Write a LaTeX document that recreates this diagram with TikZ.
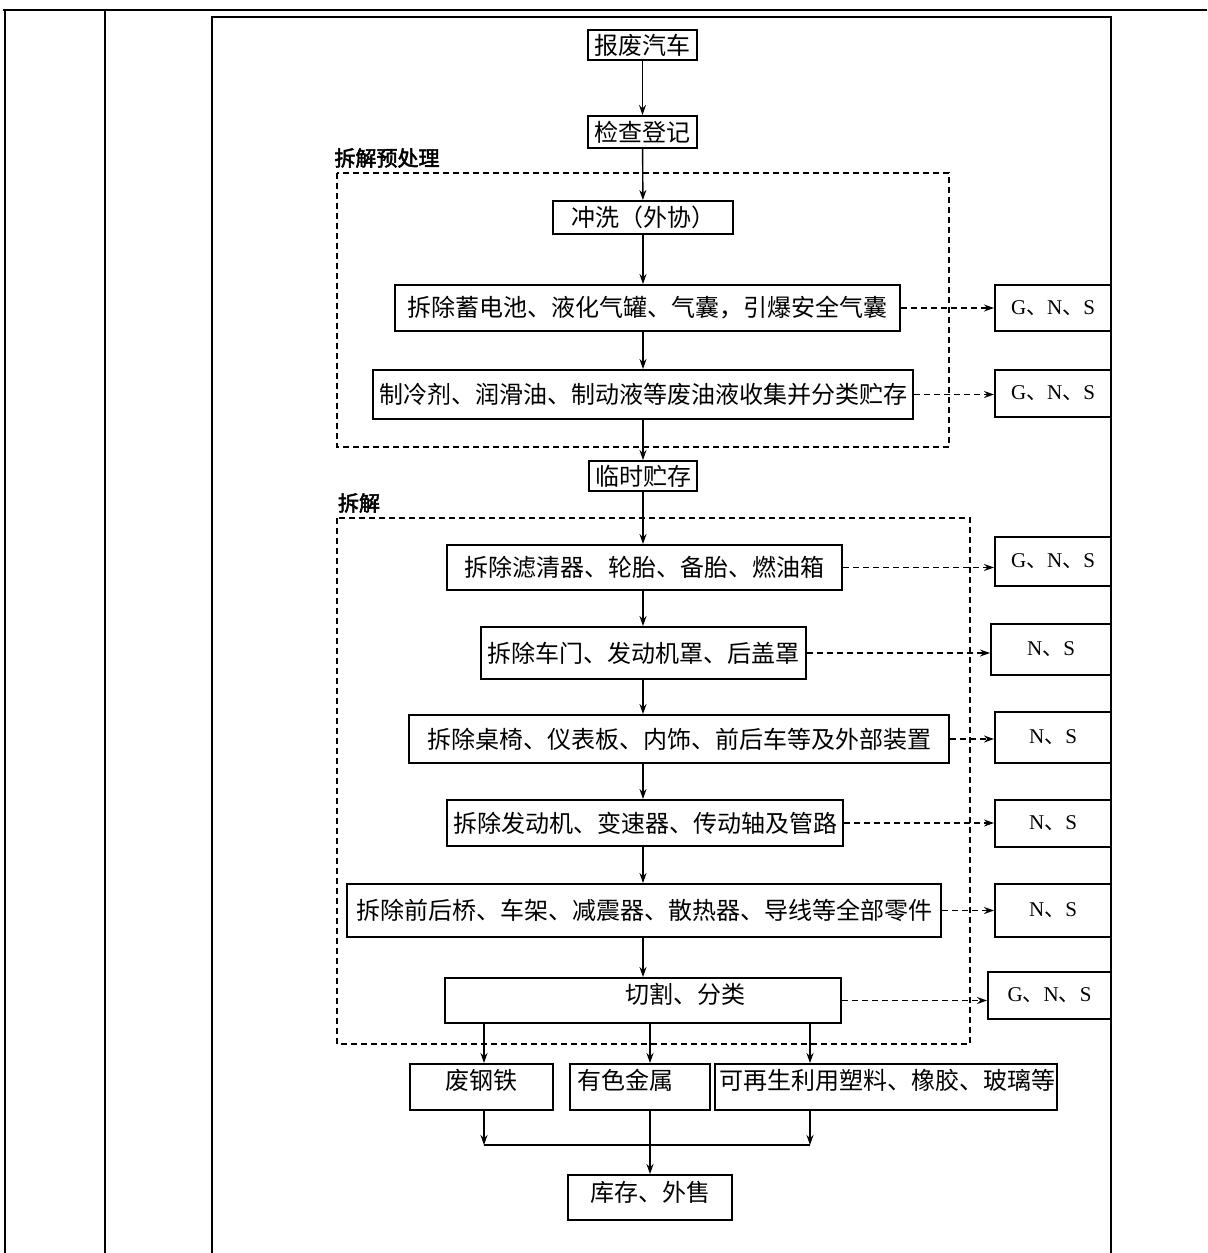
\documentclass[tikz,border=0pt]{standalone}
\usepackage{fontspec}
\setmainfont{Liberation Serif}
\newfontfamily\cjk[AutoFakeBold=2.5]{Noto Sans CJK SC}
\usetikzlibrary{arrows.meta}
\begin{document}
\begin{tikzpicture}[x=0.5pt,y=-0.5pt,
  frame/.style={line width=1pt},
  box/.style={draw, line width=1pt, inner sep=0pt, font=\cjk\fontsize{12}{14}\selectfont},
  gbox/.style={draw, line width=1pt, inner sep=0pt, font=\fontsize{10.5}{12}\selectfont},
  txt/.style={inner sep=0pt, font=\cjk\fontsize{12}{14}\selectfont},
  lbl/.style={inner sep=0pt, font=\cjk\bfseries\fontsize{10.5}{12}\selectfont},
  grp/.style={draw, dashed, dash pattern=on 3pt off 2pt, line width=0.8pt},
  arr/.style={-{Stealth[length=5pt,width=3.5pt]}, line width=0.7pt},
  darr/.style={-{Stealth[length=5pt,width=3.5pt]}, line width=0.7pt, dash pattern=on 3pt off 2pt}]
\useasboundingbox (0,0) rectangle (1207,1253);
\fill[white] (0,0) rectangle (1207,1253);
% frame
\draw[frame] (3,10) -- (1207,10);
\draw[frame] (5,10) -- (5,1253);
\draw[frame] (105,10) -- (105,1253);
\draw[frame] (212,1253) -- (212,17) -- (1111,17) -- (1111,1253);
% groups
\draw[grp] (337,173) rectangle (949,447);
\draw[grp] (337,518) rectangle (970,1044);
\node[lbl] (l1) at (387,158) {拆解预处理};
\node[lbl] (l2) at (359,503) {拆解};
% main boxes
\node[box, minimum width=54.5pt, minimum height=15pt] (bf) at (642.5,45) {报废汽车};
\node[box, minimum width=54.5pt, minimum height=16pt] (jc) at (642.5,132) {检查登记};
\node[box, minimum width=90pt, minimum height=16.5pt] (cx) at (643,217.5) {冲洗（外协）};
\node[box, minimum width=252.5pt, minimum height=23pt] (cc) at (647.5,308) {拆除蓄电池、液化气罐、气囊，引爆安全气囊};
\node[box, minimum width=270pt, minimum height=24.5pt] (zl) at (643,394.5) {制冷剂、润滑油、制动液等废油液收集并分类贮存};
\node[box, minimum width=54pt, minimum height=15pt] (ls) at (643,476) {临时贮存};
\node[box, minimum width=197.5pt, minimum height=22.5pt] (lq) at (644.5,567.5) {拆除滤清器、轮胎、备胎、燃油箱};
\node[box, minimum width=162.5pt, minimum height=26pt] (cm) at (643.5,653) {拆除车门、发动机罩、后盖罩};
\node[box, minimum width=270pt, minimum height=24pt] (zy) at (679,739) {拆除桌椅、仪表板、内饰、前后车等及外部装置};
\node[box, minimum width=198pt, minimum height=23pt] (fd) at (645,823) {拆除发动机、变速器、传动轴及管路};
\node[box, minimum width=297pt, minimum height=26.5pt] (qh) at (644,910.5) {拆除前后桥、车架、减震器、散热器、导线等全部零件};
\node[box, minimum width=198pt, minimum height=22.5pt] (qg) at (643,1000.5) {};
\node[txt] (qgt) at (685,994) {切割、分类};
\node[box, minimum width=71.5pt, minimum height=23pt] (fg) at (481.5,1087) {};
\node[txt] (fgt) at (481,1080) {废钢铁};
\node[box, minimum width=70pt, minimum height=23pt] (ys) at (640,1087) {};
\node[txt] (yst) at (625,1080) {有色金属};
\node[box, minimum width=171pt, minimum height=23pt] (kz) at (886,1087) {};
\node[txt] (kzt) at (887,1080) {可再生利用塑料、橡胶、玻璃等};
\node[box, minimum width=82pt, minimum height=22.5pt] (kc) at (650,1197.5) {};
\node[txt] (kct) at (650,1192) {库存、外售};
% G boxes
\newcommand{\dn}{{\cjk 、}}
\node[gbox, minimum width=58pt, minimum height=23pt] (g1) at (1053,308) {G\dn N\dn S};
\node[gbox, minimum width=58pt, minimum height=23.5pt] (g2) at (1053,393.5) {G\dn N\dn S};
\node[gbox, minimum width=58pt, minimum height=24.5pt] (g3) at (1053,561.5) {G\dn N\dn S};
\node[gbox, minimum width=60pt, minimum height=25.5pt] (g4) at (1051,649.5) {N\dn S};
\node[gbox, minimum width=58pt, minimum height=25.5pt] (g5) at (1053,737.5) {N\dn S};
\node[gbox, minimum width=58pt, minimum height=23.5pt] (g6) at (1053,823.5) {N\dn S};
\node[gbox, minimum width=58pt, minimum height=26.5pt] (g7) at (1053,910.5) {N\dn S};
\node[gbox, minimum width=61.5pt, minimum height=23.5pt] (g8) at (1049.5,995.5) {G\dn N\dn S};
% main flow
\draw[arr] (bf) -- (jc);
\draw[arr] (jc) -- (cx);
\draw[arr] (cx.south) -- (cx.south |- cc.north);
\draw[arr] (cc.south -| cx.south) -- (cx.south |- zl.north);
\draw[arr] (zl.south -| cx.south) -- (ls.north -| cx.south);
\draw[arr] (ls.south) -- (ls.south |- lq.north);
\draw[arr] (lq.south -| ls.south) -- (ls.south |- cm.north);
\draw[arr] (cm.south -| ls.south) -- (ls.south |- zy.north);
\draw[arr] (zy.south -| ls.south) -- (ls.south |- fd.north);
\draw[arr] (fd.south -| ls.south) -- (ls.south |- qh.north);
\draw[arr] (qh.south -| ls.south) -- (ls.south |- qg.north);
% side outputs
\draw[darr] (cc.east) -- (cc.east -| g1.west);
\draw[darr] (zl.east) -- (zl.east -| g2.west);
\draw[darr] (lq.east) -- (lq.east -| g3.west);
\draw[darr] (cm.east) -- (cm.east -| g4.west);
\draw[darr] (zy.east) -- (zy.east -| g5.west);
\draw[darr] (fd.east) -- (fd.east -| g6.west);
\draw[darr] (qh.east) -- (qh.east -| g7.west);
\draw[darr] (qg.east) -- (qg.east -| g8.west);
% sorting
\coordinate (m1) at (484,1145);
\coordinate (m3) at (810,1145);
\draw[arr] (qg.south -| m1) -- (fg.north -| m1);
\draw[arr] (qg.south -| kc.north) -- (ys.north -| kc.north);
\draw[arr] (qg.south -| m3) -- (kz.north -| m3);
\draw[arr] (fg.south -| m1) -- (m1);
\draw[arr] (kz.south -| m3) -- (m3);
\draw[line width=0.7pt] (m1) -- (m3);
\draw[arr] (ys.south -| kc.north) -- (kc.north);
\end{tikzpicture}
\end{document}
